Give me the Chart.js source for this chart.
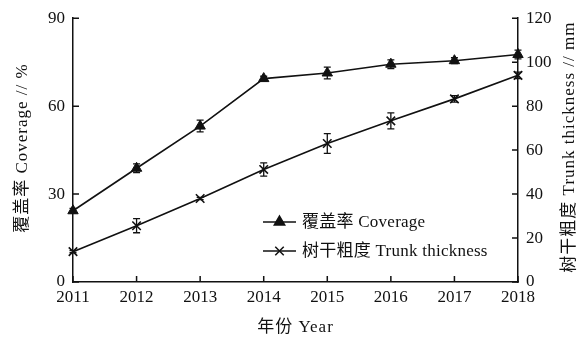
<!DOCTYPE html>
<html>
<head>
<meta charset="utf-8">
<script src="https://cdn.jsdelivr.net/npm/chart.js@4/dist/chart.umd.min.js"></script>
<style>
  html, body { margin: 0; padding: 0; background: #fff; }
  #wrap { width: 582px; height: 342px; position: relative; }
</style>
</head>
<body>
<div id="wrap"><canvas id="c" width="582" height="342"></canvas></div>
<script>
// Years on the horizontal axis
const years = ['2011', '2012', '2013', '2014', '2015', '2016', '2017', '2018'];

// Vegetation coverage (%) and its error
const coverage    = [24.3, 38.8, 53.2, 69.4, 71.3, 74.3, 75.5, 77.6];
const coverageErr = [0.8, 1.5, 2.0, 0.8, 2.0, 1.5, 1.0, 1.5];

// Trunk thickness (mm) and its error
const trunk    = [13.8, 25.6, 38.0, 51.2, 63.0, 73.3, 83.3, 94.0];
const trunkErr = [0.5, 3.2, 0.5, 3.0, 4.5, 3.6, 1.5, 1.5];

// Axis tick values
const coverageTicks = [0, 30, 60, 90];
const trunkTicks    = [0, 20, 40, 60, 80, 100, 120];

// Titles
const coverageLabel = '覆盖率 Coverage';
const trunkLabel    = '树干粗度 Trunk thickness';
const leftTitle     = '覆盖率 Coverage // %';
const rightTitle    = '树干粗度 Trunk thickness // mm';
const bottomTitle   = '年份 Year';

const FONT = "'Liberation Serif', 'Noto Sans CJK SC', serif";
const INK = '#111';

// Short tick marks pointing into the plot area
const inwardTicks = {
  id: 'inwardTicks',
  afterDraw(chart) {
    const { ctx, scales } = chart;
    const x = scales.x, yl = scales.y, yr = scales.y1;
    const len = 6;
    ctx.save();
    ctx.strokeStyle = INK;
    ctx.lineWidth = 1.5;
    ctx.beginPath();
    years.forEach((_, i) => {
      const px = x.getPixelForValue(i);
      ctx.moveTo(px, x.top);
      ctx.lineTo(px, x.top - len);
    });
    coverageTicks.forEach(v => {
      const py = yl.getPixelForValue(v);
      ctx.moveTo(yl.right, py);
      ctx.lineTo(yl.right + len, py);
    });
    trunkTicks.forEach(v => {
      const py = yr.getPixelForValue(v);
      ctx.moveTo(yr.left, py);
      ctx.lineTo(yr.left - len, py);
    });
    ctx.stroke();
    ctx.restore();
  }
};

// Vertical error bars with caps, drawn beneath the markers
const errorBars = {
  id: 'errorBars',
  beforeDatasetsDraw(chart) {
    const { ctx } = chart;
    ctx.save();
    ctx.strokeStyle = INK;
    ctx.lineWidth = 1.3;
    chart.data.datasets.forEach((ds) => {
      const ys = chart.scales[ds.yAxisID];
      const xs = chart.scales.x;
      ds.data.forEach((v, i) => {
        const e = ds.errors[i];
        const px = xs.getPixelForValue(i);
        const hi = ys.getPixelForValue(v + e);
        const lo = ys.getPixelForValue(v - e);
        ctx.beginPath();
        ctx.moveTo(px, hi); ctx.lineTo(px, lo);
        ctx.moveTo(px - 3.5, hi); ctx.lineTo(px + 3.5, hi);
        ctx.moveTo(px - 3.5, lo); ctx.lineTo(px + 3.5, lo);
        ctx.stroke();
      });
    });
    ctx.restore();
  }
};

// Legend inside the lower right of the plot, plus the axis titles
const annotations = {
  id: 'annotations',
  afterDraw(chart) {
    const { ctx, chartArea } = chart;
    ctx.save();
    ctx.fillStyle = INK;
    ctx.strokeStyle = INK;
    ctx.font = '17px ' + FONT;
    ctx.textBaseline = 'middle';

    // legend rows
    ctx.letterSpacing = '0.25px';
    const lx0 = 263, lx1 = 296, tx = 302;
    const rows = [chartArea.bottom - 60, chartArea.bottom - 31];
    chart.data.datasets.forEach((ds, i) => {
      const y = rows[i];
      ctx.lineWidth = 1.5;
      ctx.beginPath();
      ctx.moveTo(lx0, y); ctx.lineTo(lx1, y);
      ctx.stroke();
      Chart.helpers.drawPoint(ctx, {
        pointStyle: ds.pointStyle, radius: ds.pointRadius,
        borderWidth: ds.pointBorderWidth, rotation: 0
      }, (lx0 + lx1) / 2, y);
      ctx.fillStyle = INK;
      ctx.strokeStyle = INK;
      ctx.textAlign = 'left';
      ctx.fillText(ds.label, tx, y + 1);
    });

    // axis titles
    ctx.letterSpacing = '1px';
    const midY = (chartArea.top + chartArea.bottom) / 2;
    ctx.textAlign = 'center';
    ctx.save();
    ctx.translate(23, midY - 2);
    ctx.rotate(-Math.PI / 2);
    ctx.fillText(leftTitle, 0, 0);
    ctx.restore();

    ctx.save();
    ctx.translate(570, midY - 3);
    ctx.rotate(-Math.PI / 2);
    ctx.fillText(rightTitle, 0, 0);
    ctx.restore();

    ctx.fillText(bottomTitle, (chartArea.left + chartArea.right) / 2, 328);
    ctx.restore();
  }
};

new Chart(document.getElementById('c'), {
  type: 'line',
  data: {
    labels: years,
    datasets: [
      {
        label: coverageLabel,
        data: coverage,
        errors: coverageErr,
        yAxisID: 'y',
        borderColor: INK,
        backgroundColor: INK,
        borderWidth: 1.6,
        pointStyle: 'triangle',
        pointRadius: 6,
        pointBorderWidth: 1,
        pointBackgroundColor: INK,
        pointBorderColor: INK,
        tension: 0
      },
      {
        label: trunkLabel,
        data: trunk,
        errors: trunkErr,
        yAxisID: 'y1',
        borderColor: INK,
        backgroundColor: INK,
        borderWidth: 1.6,
        pointStyle: 'crossRot',
        pointRadius: 6,
        pointBorderWidth: 1.6,
        pointBackgroundColor: INK,
        pointBorderColor: INK,
        tension: 0
      }
    ]
  },
  options: {
    responsive: false,
    animation: false,
    layout: { padding: { top: 18, left: 0, right: 0, bottom: 0 } },
    plugins: {
      legend: { display: false },
      tooltip: { enabled: false }
    },
    scales: {
      x: {
        type: 'category',
        offset: false,
        grid: { display: false, drawTicks: false },
        border: { display: true, color: INK, width: 1.5 },
        ticks: {
          color: INK, padding: 5,
          font: { family: FONT, size: 17 },
          maxRotation: 0, autoSkip: false
        },
        afterFit(s) { s.height = 60; }
      },
      y: {
        position: 'left',
        min: 0, max: 90,
        afterBuildTicks(s) { s.ticks = coverageTicks.map(v => ({ value: v })); },
        grid: { display: false, drawTicks: false },
        border: { display: true, color: INK, width: 1.5 },
        ticks: { color: INK, padding: 8, font: { family: FONT, size: 17 } },
        afterFit(s) { s.width = 73; }
      },
      y1: {
        position: 'right',
        min: 0, max: 120,
        afterBuildTicks(s) { s.ticks = trunkTicks.map(v => ({ value: v })); },
        grid: { display: false, drawTicks: false },
        border: { display: true, color: INK, width: 1.5 },
        ticks: { color: INK, padding: 8, font: { family: FONT, size: 17 } },
        afterFit(s) { s.width = 64; }
      }
    }
  },
  plugins: [errorBars, inwardTicks, annotations]
});
</script>
</body>
</html>
